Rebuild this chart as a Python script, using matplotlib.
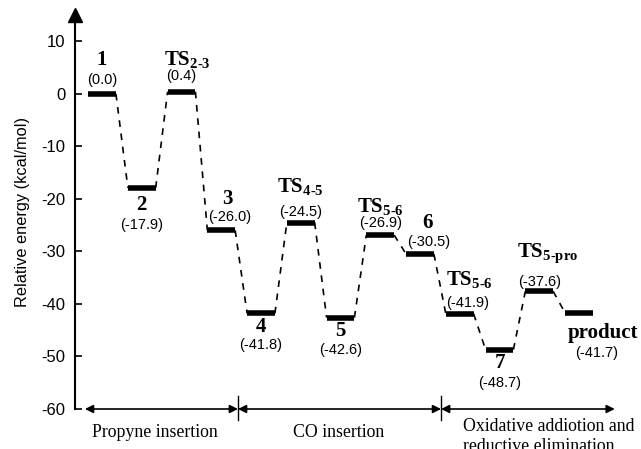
import numpy as np
import matplotlib
matplotlib.use("Agg")
import matplotlib.pyplot as plt

plt.rcParams['mathtext.fontset'] = 'custom'
plt.rcParams['mathtext.rm'] = 'Liberation Serif'
plt.rcParams['mathtext.bf'] = 'Liberation Serif:bold'
plt.rcParams['mathtext.it'] = 'Liberation Serif:italic'
plt.rcParams['axes.unicode_minus'] = False

# States along the reaction path
state_names = ['1', '2', r'TS$_{\mathbf{2\text{-}3}}$', '3', '4', r'TS$_{\mathbf{4\text{-}5}}$', '5',
               r'TS$_{\mathbf{5\text{-}6}}$', '6', r'TS$_{\mathbf{5\text{-}6}}$', '7',
               r'TS$_{\mathbf{5\text{-}pro}}$', 'product']
energies = [0.0, -17.9, 0.4, -26.0, -41.8, -24.5, -42.6, -26.9, -30.5, -41.9, -48.7, -37.6, -41.7]

# Reaction stages (start, end in state index units)
stage_labels = ['Propyne insertion', 'CO insertion', 'Oxidative addiotion and', 'reductive elimination']
stage_bounds = [(-0.43, 3.42), (3.42, 8.53), (8.53, 12.9)]

yticks = [10, 0, -10, -20, -30, -40, -50, -60]

# label offsets: (dx, dy name, dx, dy value) relative to bar centre/energy
label_pos = [
    (0.0, 6.5, 0.0, 2.7),
    (0.0, -3.3, 0.0, -7.0),
    (0.15, 6.1, 0.0, 2.9),
    (0.15, 6.0, 0.2, 2.6),
    (0.0, -2.6, 0.0, -6.0),
    (0.0, 6.9, 0.0, 2.0),
    (0.0, -2.5, 0.0, -6.2),
    (0.0, 5.4, 0.0, 2.3),
    (0.2, 5.9, 0.22, 2.3),
    (0.25, 6.5, 0.2, 2.1),
    (0.0, -2.5, 0.0, -6.3),
    (0.2, 7.3, 0.0, 1.8),
    (0.6, -3.8, 0.45, -7.6),
]

fig = plt.figure(figsize=(6.41, 4.49), dpi=100)
ax = fig.add_axes([75 / 641, (449 - 409) / 449, 1 - 75 / 641, (409 - 15) / 449])
ax.set_xlim(-0.68, 13.56)
ax.set_ylim(-60, 15)

half = 0.35
x = np.arange(len(energies))
for i, e in enumerate(energies):
    ax.plot([x[i] - half, x[i] + half], [e, e], color='black', lw=4.0, solid_capstyle='butt', zorder=3)
    if i > 0:
        ax.plot([x[i - 1] + half, x[i] - half], [energies[i - 1], e], color='black', lw=1.2,
                linestyle=(0, (4, 4)), zorder=2)
    dxn, dyn, dxv, dyv = label_pos[i]
    ax.text(x[i] + dxn, e + dyn, state_names[i], ha='center', va='center', fontsize=15,
            family='Liberation Serif', fontweight='bold')
    ax.text(x[i] + dxv, e + dyv, f"({e:.1f})", ha='center', va='center', fontsize=10.5,
            family='Liberation Sans')

# stage arrows along the bottom
for x0, x1 in stage_bounds:
    ax.annotate('', xy=(x1, -60), xytext=(x0, -60), annotation_clip=False,
                arrowprops=dict(arrowstyle='<|-|>', color='black', lw=1.2, mutation_scale=12,
                                shrinkA=0, shrinkB=0))
for xb in [3.42, 8.53]:
    ax.plot([xb, xb], [-62.0, -57.5], color='black', lw=1.0, clip_on=False)

txt = dict(fontsize=12.8, family='Liberation Serif', clip_on=False, va='center')
ax.text(1.33, -64.4, stage_labels[0], ha='center', **txt)
ax.text(5.94, -64.4, stage_labels[1], ha='center', **txt)
ax.text(9.08, -63.4, stage_labels[2], ha='left', **txt)
ax.text(9.08, -67.2, stage_labels[3], ha='left', **txt)

# axis styling: only the left spine with an arrow head
for s in ['top', 'right', 'bottom']:
    ax.spines[s].set_visible(False)
ax.spines['left'].set_linewidth(1.5)
ax.plot(-0.68, 15, marker='^', color='black', markersize=10, clip_on=False, zorder=5)
ax.set_xticks([])
ax.set_yticks(yticks)
ax.tick_params(axis='y', direction='in', length=5, width=1.2, labelsize=12, pad=7)
for t in ax.get_yticklabels():
    t.set_family('Liberation Sans')
ax.set_ylabel('Relative energy (kcal/mol)', fontsize=11.8, family='Liberation Sans')
ax.yaxis.set_label_coords(-0.08, 0.5)

fig.savefig('out.png', dpi=100)
